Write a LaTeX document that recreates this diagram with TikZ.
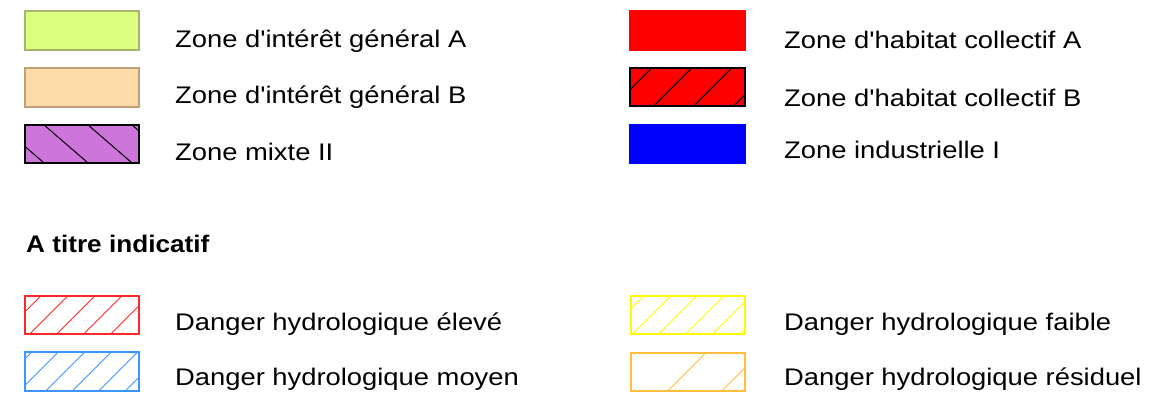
\documentclass[tikz,border=0pt]{standalone}
\usepackage{fontspec}
\setmainfont{Liberation Sans}
\newfontfamily\legfont[FakeStretch=1.14]{Liberation Sans}
\newfontfamily\legbold[FakeStretch=1.09]{Liberation Sans Bold}
\definecolor{cLime}{RGB}{221,255,128}
\definecolor{cLimeB}{RGB}{165,180,110}
\definecolor{cPeach}{RGB}{253,220,170}
\definecolor{cPeachB}{RGB}{190,160,120}
\definecolor{cPurple}{RGB}{206,117,220}
\definecolor{cRed}{RGB}{255,0,0}
\definecolor{cBlue}{RGB}{0,0,255}
\definecolor{dRed}{RGB}{255,40,40}
\definecolor{dBlue}{RGB}{60,150,255}
\definecolor{dYellow}{RGB}{255,250,0}
\definecolor{dOrange}{RGB}{255,190,60}
\begin{document}
\begin{tikzpicture}[x=1pt,y=-1pt,
  box/.style={draw, minimum width=114pt, minimum height=38pt, inner sep=0pt, line width=1.2pt},
  lbl/.style={anchor=base west, inner sep=0pt, font=\legfont\fontsize{24}{28}\selectfont},
  hatch/.style={line width=1pt}]
\useasboundingbox (0,0) rectangle (1176,397);

% top left
\node[box, fill=cLime, draw=cLimeB, minimum height=39pt] (l1) at (82,30.5) {};
\node[box, fill=cPeach, draw=cPeachB, minimum height=39pt] (l2) at (82,87.5) {};
\node[box, fill=cPurple, draw=black] (l3) at (82,144) {};
\begin{scope}
  \clip (l3.south west) rectangle (l3.north east);
  \foreach \t in {-25,19,63,107,151}
    \draw[hatch, black] ([xshift=\t pt]l3.north west) -- ++(44,38);
\end{scope}
\draw[black, line width=1.2pt] (l3.south west) rectangle (l3.north east);

% top right
\node[box, fill=cRed, draw=cRed, minimum width=115pt, minimum height=39pt] (r1) at (687.5,30.5) {};
\node[box, fill=cRed, draw=black, minimum width=115pt] (r2) at (687.5,87) {};
\begin{scope}
  \clip (r2.south west) rectangle (r2.north east);
  \foreach \t in {23,63,103,143}
    \draw[hatch, black] ([xshift=\t pt]r2.north west) -- ++(-38,38);
\end{scope}
\draw[black, line width=1.2pt] (r2.south west) rectangle (r2.north east);
\node[box, fill=cBlue, draw=cBlue, minimum width=115pt] (r3) at (687.5,144) {};

% danger boxes
\node[box, draw=dRed] (d1) at (82,315) {};
\begin{scope}
  \clip (d1.south west) rectangle (d1.north east);
  \foreach \t in {17,44,71,98,125,152}
    \draw[hatch, dRed, line width=0.8pt] ([xshift=\t pt]d1.north west) -- ++(-38,38);
\end{scope}
\node[box, draw=dBlue, minimum height=39pt] (d2) at (82,371.5) {};
\begin{scope}
  \clip (d2.south west) rectangle (d2.north east);
  \foreach \t in {8,34.5,61,87.5,114,140.5}
    \draw[hatch, dBlue, line width=0.8pt] ([xshift=\t pt]d2.north west) -- ++(-39,39);
\end{scope}
\node[box, draw=dYellow] (d3) at (688,315) {};
\begin{scope}
  \clip (d3.south west) rectangle (d3.north east);
  \foreach \t in {14,41,67,94,121,148}
    \draw[hatch, dYellow, line width=0.8pt] ([xshift=\t pt]d3.north west) -- ++(-38,38);
\end{scope}
\node[box, draw=dOrange] (d4) at (688,372) {};
\begin{scope}
  \clip (d4.south west) rectangle (d4.north east);
  \foreach \t in {76,130}
    \draw[hatch, dOrange, line width=0.8pt] ([xshift=\t pt]d4.north west) -- ++(-38,38);
\end{scope}

% labels
\node[lbl] (t1) at (175,47) {Zone d'intérêt général A};
\node[lbl] (t2) at (175,103) {Zone d'intérêt général B};
\node[lbl] (t3) at (175,160) {Zone mixte II};
\node[lbl] (t4) at (784,48) {Zone d'habitat collectif A};
\node[lbl] (t5) at (784,106) {Zone d'habitat collectif B};
\node[lbl] (t6) at (784,158) {Zone industrielle I};
\node[anchor=base west, inner sep=0pt, font=\legbold\fontsize{24}{28}\selectfont] (title) at (26,252) {A titre indicatif};
\node[lbl] (t7) at (175,330) {Danger hydrologique élevé};
\node[lbl] (t8) at (175,385) {Danger hydrologique moyen};
\node[lbl] (t9) at (784,330) {Danger hydrologique faible};
\node[lbl] (t10) at (784,385) {Danger hydrologique résiduel};
\end{tikzpicture}
\end{document}
